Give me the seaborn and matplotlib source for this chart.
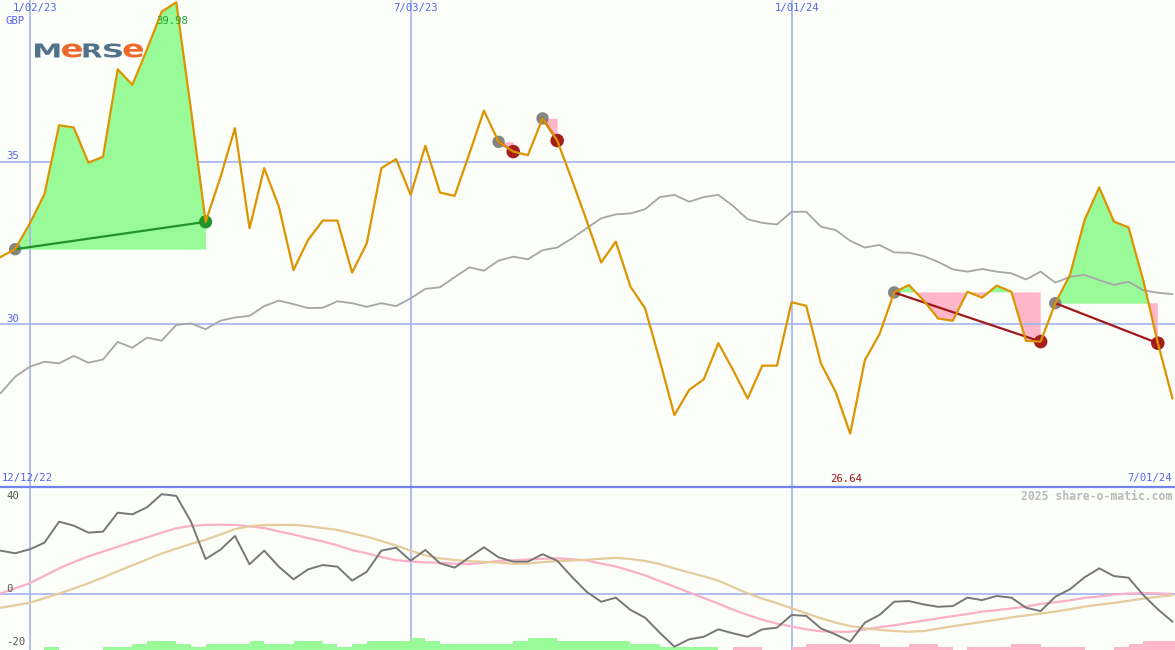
import numpy as np
import matplotlib
matplotlib.use("Agg")
import matplotlib.pyplot as plt
import matplotlib.transforms as mtransforms
from matplotlib.textpath import TextPath
from matplotlib.patches import PathPatch
from matplotlib.font_manager import FontProperties
import seaborn as sns

# ------------------------------------------------------------
# Datos semanales
# ------------------------------------------------------------
precio = [
    32.07, 32.31, 33.10, 34.00, 36.12, 36.05, 34.97, 35.15, 37.84, 37.36,
    38.45, 39.61, 39.90, 36.60, 33.15, 34.50, 36.03, 32.95, 34.80, 33.62,
    31.67, 32.60, 33.19, 33.19, 31.59, 32.49, 34.80, 35.08, 33.98, 35.49,
    34.05, 33.95, 35.24, 36.57, 35.61, 35.31, 35.20, 36.33, 35.65, 34.45,
    33.20, 31.90, 32.54, 31.16, 30.49, 28.89, 27.21, 27.98, 28.31, 29.42,
    28.60, 27.72, 28.73, 28.73, 30.68, 30.57, 28.80, 27.93, 26.64, 28.90,
    29.70, 30.98, 31.21, 30.74, 30.18, 30.11, 31.00, 30.82, 31.19, 31.00,
    29.49, 29.47, 30.65, 31.52, 33.21, 34.21, 33.16, 32.98, 31.36, 29.42,
    27.72]

media = [
    27.88, 28.39, 28.70, 28.85, 28.80, 29.03, 28.82, 28.92, 29.46, 29.28,
    29.59, 29.50, 29.98, 30.03, 29.85, 30.11, 30.21, 30.26, 30.56, 30.73,
    30.62, 30.50, 30.51, 30.71, 30.65, 30.54, 30.65, 30.56, 30.80, 31.09,
    31.14, 31.45, 31.75, 31.65, 31.96, 32.08, 32.00, 32.28, 32.36, 32.64,
    32.95, 33.26, 33.38, 33.41, 33.54, 33.91, 33.98, 33.77, 33.91, 33.98,
    33.64, 33.23, 33.12, 33.07, 33.46, 33.46, 33.00, 32.90, 32.57, 32.36,
    32.44, 32.21, 32.20, 32.10, 31.92, 31.69, 31.62, 31.70, 31.62, 31.57,
    31.38, 31.62, 31.28, 31.46, 31.52, 31.36, 31.21, 31.31, 31.05, 30.97,
    30.93]

oscilador = [
    18.2, 17.1, 18.75, 21.5, 30.25, 28.6, 25.7, 26.1, 34.0, 33.3,
    36.25, 41.7, 41.0, 30.25, 14.7, 18.5, 24.3, 12.5, 18.2, 11.5,
    6.25, 10.4, 12.2, 11.5, 5.7, 9.4, 18.2, 19.4, 14.0, 18.5,
    12.9, 11.1, 15.4, 19.6, 15.4, 13.6, 13.6, 16.7, 14.0, 7.3,
    1.1, -3.1, -1.4, -6.5, -9.75, -16.0, -21.8, -18.75, -17.7, -14.6,
    -16.25, -17.7, -14.6, -13.9, -8.6, -9.0, -14.2, -16.7, -19.75, -11.8,
    -8.6, -3.1, -2.8, -4.2, -5.2, -4.9, -1.4, -2.4, -0.7, -1.4,
    -5.6, -7.0, -1.0, 2.1, 7.1, 10.8, 7.6, 6.9, -0.3, -6.25,
    -11.4]

senal_rosa = [
    0.4, 2.5, 4.6, 7.7, 10.8, 13.4, 15.8, 17.8, 19.8, 21.8,
    23.7, 25.7, 27.5, 28.5, 28.9, 29.0, 28.9, 28.3, 27.6, 26.2,
    24.9, 23.4, 22.0, 20.4, 18.4, 17.1, 15.5, 14.2, 13.7, 13.3,
    13.1, 12.8, 12.6, 13.2, 13.9, 14.2, 14.5, 14.8, 15.0, 14.6,
    14.1, 12.8, 11.6, 9.8, 7.9, 5.5, 3.2, 0.8, -1.5, -3.9,
    -6.4, -8.6, -10.6, -12.2, -13.4, -14.6, -15.4, -15.6, -15.6, -14.7,
    -13.7, -12.9, -11.9, -11.0, -10.0, -9.1, -8.2, -7.2, -6.6, -5.9,
    -5.1, -4.0, -3.3, -2.5, -1.5, -0.9, -0.1, 0.3, 0.5, 0.4,
    0.1]

senal_tan = [
    -5.6, -4.6, -3.5, -1.6, 0.3, 2.4, 4.6, 7.0, 9.6, 12.1,
    14.5, 17.0, 19.0, 21.0, 22.7, 24.9, 27.1, 28.4, 28.8, 28.9,
    28.9, 28.4, 27.6, 26.8, 25.4, 24.0, 22.2, 20.3, 18.2, 16.2,
    15.0, 14.3, 13.8, 13.5, 13.2, 12.7, 12.8, 13.4, 13.8, 14.1,
    14.4, 14.8, 15.2, 14.7, 13.9, 12.6, 10.8, 9.1, 7.5, 5.7,
    3.0, 0.4, -1.8, -3.7, -5.8, -7.9, -10.0, -11.8, -13.2, -14.2,
    -14.8, -15.3, -15.6, -15.3, -14.3, -13.3, -12.4, -11.5, -10.6, -9.6,
    -8.8, -8.0, -7.2, -6.2, -5.1, -4.3, -3.6, -2.7, -1.8, -1.0,
    -0.4]

# barras inferiores (niveles) y su tendencia (verde hasta la semana 49)
barras = [
    0, 0, 0, 1, 0, 0, 0, 1, 1, 2,
    3, 3, 2, 1, 2, 2, 2, 3, 2, 2,
    3, 3, 2, 1, 2, 3, 3, 3, 4, 3,
    2, 2, 2, 2, 2, 3, 4, 4, 3, 3,
    3, 3, 3, 2, 2, 1, 1, 1, 1, 0,
    1, 1, 0, 0, 1, 2, 2, 2, 2, 2,
    1, 1, 2, 2, 1, 0, 1, 1, 1, 2,
    2, 1, 1, 1, 0, 0, 1, 2, 3, 3,
    3]
primera_rosa = 50

# operaciones: (semana compra, semana venta)
operaciones = [(1, 14), (34, 35), (37, 38), (61, 71), (72, 79)]

fechas_grid = [2, 28, 54]
fechas_txt = ["1/02/23", "7/03/23", "1/01/24"]

# ------------------------------------------------------------
# Estilo
# ------------------------------------------------------------
sns.set_style("white")
plt.rcParams['font.family'] = ['DejaVu Sans Mono', 'DejaVu Sans']

W, H = 1175, 650
FONDO = "#fcfefa"
NARANJA = "#dc9400"
GRIS = "#a6a6a6"
GRID = "#a3b3f0"
AZUL_TXT = "#5566ee"
VERDE_FILL = "#98fb98"
ROSA_FILL = "#ffb6c8"

idx = np.arange(len(precio))
p = np.array(precio)

fig = plt.figure(figsize=(W / 100, H / 100), dpi=100, facecolor=FONDO)
ax = fig.add_axes([0, 1 - 487 / H, 1, 487 / H])
ax2 = fig.add_axes([0, 0, 1, 163 / H])
for a in (ax, ax2):
    a.set_facecolor("none")
    a.set_axis_off()
    a.set_xlim(-0.034, 80.17)
ax.set_ylim(25.0, 39.97)
ax2.set_ylim(-23.2, 44.7)


def ftext(x, y, s, **kw):
    fig.text(x / W, 1 - y / H, s, **kw)


# logo (detrás del gráfico)
def letra_logo(ch, x0, x1, ytop, ybot, color):
    tp = TextPath((0, 0), ch, size=100, prop=FontProperties(family="DejaVu Sans", weight="bold"))
    ext = tp.get_extents()
    tr = (mtransforms.Affine2D().translate(-ext.x0, -ext.y0)
          .scale((x1 - x0) / ext.width, (ybot - ytop) / ext.height)
          .translate(x0, H - ybot)
          + mtransforms.Affine2D().scale(1 / W, 1 / H) + fig.transFigure)
    ax.add_artist(PathPatch(tp, facecolor=color, lw=0, transform=tr, zorder=0.3))


PIZARRA = "#52718b"
NAR_LOGO = "#ee6a2c"
letra_logo("M", 35, 59.5, 43.5, 57.5, PIZARRA)
letra_logo("e", 62, 82, 43.5, 57.5, NAR_LOGO)
letra_logo("R", 83.5, 102, 43.5, 57.5, PIZARRA)
letra_logo("S", 104, 122, 43.5, 57.5, PIZARRA)
letra_logo("e", 123.5, 143, 43.5, 57.5, NAR_LOGO)

# rejilla
for g in fechas_grid:
    ax.axvline(g, color=GRID, lw=1.2, zorder=1.2)
    ax2.axvline(g, color=GRID, lw=1.2, zorder=0.5)
for hy in (35, 30):
    ax.axhline(hy, color=GRID, lw=1.2, zorder=0.5)
ax2.axhline(0, color=GRID, lw=1.2, zorder=0.5)
ax2.axhline(44.7, color="#7083ee", lw=1.6, zorder=10, clip_on=False)

# rellenos de las operaciones
for b, s in operaciones:
    xs = idx[b:s + 1]
    ys = p[b:s + 1]
    base = p[b]
    ax.fill_between(xs, ys, base, where=ys >= base, interpolate=True,
                    color=VERDE_FILL, lw=0, zorder=1)
    ax.fill_between(xs, ys, base, where=ys <= base, interpolate=True,
                    color=ROSA_FILL, lw=0, zorder=0.4)

# media móvil gris
sns.lineplot(x=idx, y=media, ax=ax, color=GRIS, linewidth=1.3, zorder=2, legend=False)

# marcadores de compra / venta
compras = [b for b, s in operaciones]
ventas_ok = [s for b, s in operaciones if p[s] >= p[b]]
ventas_mal = [s for b, s in operaciones if p[s] < p[b]]
sns.scatterplot(x=idx[compras], y=p[compras], ax=ax, color="#858585", s=80,
                edgecolor="none", zorder=3, legend=False)
sns.scatterplot(x=idx[ventas_ok], y=p[ventas_ok], ax=ax, color="#22922a", s=90,
                edgecolor="none", zorder=3, legend=False)
sns.scatterplot(x=idx[ventas_mal], y=p[ventas_mal], ax=ax, color="#a51e1e", s=95,
                edgecolor="none", zorder=3, legend=False)
for b, s in operaciones:
    col = "#22922a" if p[s] >= p[b] else "#a01818"
    ax.plot([b, s], [p[b], p[s]], color=col, lw=1.6, zorder=4)

# precio
sns.lineplot(x=idx, y=precio, ax=ax, color=NARANJA, linewidth=1.6, zorder=5, legend=False)

# panel inferior
col_barras = [VERDE_FILL if i < primera_rosa else ROSA_FILL for i in idx]
ax2.bar(idx, np.array(barras) * 1.25, width=1.0, align="edge", bottom=-23.2,
        color=col_barras, lw=0, zorder=1)
sns.lineplot(x=idx, y=senal_rosa, ax=ax2, color="#f9b0c8", linewidth=1.6, zorder=2, legend=False)
sns.lineplot(x=idx, y=senal_tan, ax=ax2, color="#e6cb9c", linewidth=1.6, zorder=2.5, legend=False)
sns.lineplot(x=idx, y=oscilador, ax=ax2, color="#777777", linewidth=1.4, zorder=3, legend=False)

# textos
kw = dict(fontsize=7.7, va="center")
for g, t in zip(fechas_grid, fechas_txt):
    px = 0.5 + 14.65 * g
    ftext(px - 17, 8.5, t, color=AZUL_TXT, ha="left", **kw)
ftext(6, 21.5, "GBP", color=AZUL_TXT, ha="left", **kw)
ftext(6, 156, "35", color=AZUL_TXT, ha="left", **kw)
ftext(6, 319.5, "30", color=AZUL_TXT, ha="left", **kw)
ftext(156, 21, "39.98", color="#22a02a", ha="left", **kw)
ftext(2, 478.5, "12/12/22", color=AZUL_TXT, ha="left", **kw)
ftext(1172, 478.5, "7/01/24", color=AZUL_TXT, ha="right", **kw)
ftext(830, 478.5, "26.64", color="#a01818", ha="left", **kw)
ftext(1172, 496, "2025 share-o-matic.com", color="#b9b9b9", ha="right",
      fontsize=8.3, fontweight="bold", va="center")
ftext(6, 496, "40", color="#555555", ha="left", **kw)
ftext(6, 588.5, "0", color="#555555", ha="left", **kw)
ftext(6, 642, "-20", color="#555555", ha="left", **kw)

fig.savefig("out.png", dpi=100, facecolor=FONDO)
plt.close()
